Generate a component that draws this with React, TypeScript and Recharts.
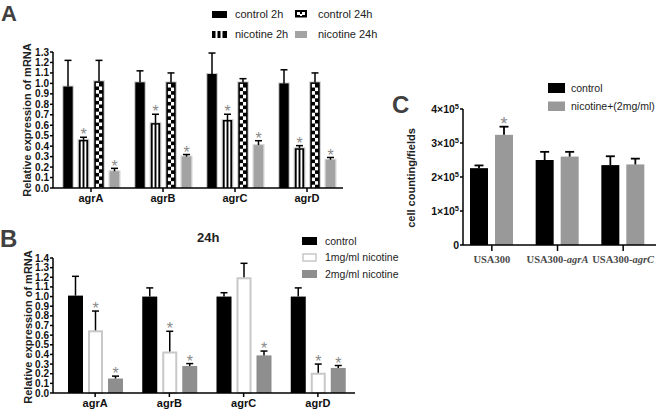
import React from 'react';
import { BarChart, Bar, XAxis, YAxis } from 'recharts';

const SANS = 'Arial, "Liberation Sans", Helvetica, sans-serif';
const SERIF = '"Times New Roman", "Liberation Serif", serif';

// panel A — agr expression at 2h / 24h
const genes = ['agrA', 'agrB', 'agrC', 'agrD'];
const ctl2h = [0.97, 1.01, 1.09, 1.0];
const ctl2hUp = [0.25, 0.11, 0.2, 0.13];
const nic2h = [0.46, 0.62, 0.65, 0.38];
const nic2hUp = [0.025, 0.085, 0.055, 0.025];
const ctl24h = [1.02, 1.01, 1.01, 1.01];
const ctl24hUp = [0.2, 0.09, 0.035, 0.09];
const nic24h = [0.16, 0.3, 0.41, 0.27];
const nic24hUp = [0.028, 0.02, 0.042, 0.022];
const nicStarA = [true, true, true, true];
const ticksA = [0, 0.1, 0.2, 0.3, 0.4, 0.5, 0.6, 0.7, 0.8, 0.9, 1.0, 1.1, 1.2, 1.3];

// panel B — 24h, two doses
const bCtl = [1.01, 1.0, 1.0, 1.0];
const bCtlUp = [0.2, 0.09, 0.04, 0.09];
const b1mg = [0.65, 0.43, 1.2, 0.21];
const b1mgUp = [0.2, 0.21, 0.145, 0.09];
const b1mgStar = [true, true, false, true];
const b2mg = [0.15, 0.28, 0.39, 0.26];
const b2mgUp = [0.025, 0.025, 0.045, 0.025];
const b2mgStar = [true, true, true, true];
const ticksB = [0, 0.1, 0.2, 0.3, 0.4, 0.5, 0.6, 0.7, 0.8, 0.9, 1.0, 1.1, 1.2, 1.3, 1.4];

// panel C — cell counts
const strains = ['USA300', 'USA300-agrA', 'USA300-agrC'];
const cCtl = [226000, 250000, 235000];
const cCtlUp = [8000, 24000, 26000];
const cNic = [324000, 260000, 237000];
const cNicUp = [24000, 14000, 17000];
const cNicStar = [true, false, false];
const ticksC = [0, 100000, 200000, 300000, 400000];

const dataA = genes.map((g, i) => ({
  gene: g,
  ctl2h: ctl2h[i], ctl2hUp: ctl2hUp[i],
  nic2h: nic2h[i], nic2hUp: nic2hUp[i], nic2hStar: nicStarA[i],
  ctl24h: ctl24h[i], ctl24hUp: ctl24hUp[i],
  nic24h: nic24h[i], nic24hUp: nic24hUp[i], nic24hStar: nicStarA[i],
}));

const dataB = genes.map((g, i) => ({
  gene: g,
  ctl: bCtl[i], ctlUp: bCtlUp[i],
  mg1: b1mg[i], mg1Up: b1mgUp[i], mg1Star: b1mgStar[i],
  mg2: b2mg[i], mg2Up: b2mgUp[i], mg2Star: b2mgStar[i],
}));

const dataC = strains.map((s, i) => ({
  strain: s,
  ctl: cCtl[i], ctlUp: cCtlUp[i],
  nic: cNic[i], nicUp: cNicUp[i], nicStar: cNicStar[i],
}));

type Opts = {
  kind: 'solid' | 'stripe' | 'checker' | 'outline';
  fill?: string;
  key: string;
  halo?: boolean;
  cap?: number;
  ew?: number;
  star?: number;
};

// bar body + upper error bar + significance star
const barShape = (o: Opts) => (p: any) => {
  const { x, y, width, height, payload } = p;
  if (!height || height <= 0) return <g />;
  const v = payload[o.key];
  const up = payload[o.key + 'Up'];
  const capY = y - (up * height) / v;
  const cx = x + width / 2;
  const parts: React.ReactNode[] = [];
  let ix = x;
  let iw = width;
  if (o.halo) {
    parts.push(<rect key="h" x={x} y={y - 1} width={width} height={height + 1} fill="#d4d4d4" />);
    ix = x + 1.3;
    iw = width - 2.6;
  }
  if (o.kind === 'solid') {
    parts.push(<rect key="b" x={ix} y={y} width={iw} height={height} fill={o.fill} />);
  } else if (o.kind === 'outline') {
    parts.push(
      <rect key="b" x={ix + 1} y={y + 1} width={iw - 2} height={height - 1} fill="#fff" stroke="#c8c8c8" strokeWidth={2} />
    );
  } else if (o.kind === 'stripe') {
    const s = iw / 5;
    parts.push(<rect key="b" x={ix} y={y} width={iw} height={height} fill="#000" />);
    parts.push(<rect key="s1" x={ix + s} y={y + 1.5} width={s} height={height - 1.5} fill="#fff" />);
    parts.push(<rect key="s2" x={ix + 3 * s} y={y + 1.5} width={s} height={height - 1.5} fill="#fff" />);
  } else {
    const b = 1.6;
    const cw = (iw - 2 * b) / 2;
    const ch = 3.6;
    parts.push(<rect key="b" x={ix} y={y} width={iw} height={height} fill="#000" />);
    let r = 0;
    for (let yy = y + b; yy < y + height; yy += ch, r++) {
      const hh = Math.min(ch, y + height - yy);
      for (let c = 0; c < 2; c++) {
        if ((r + c) % 2 === 0) {
          parts.push(<rect key={`c${r}-${c}`} x={ix + b + c * cw} y={yy} width={cw} height={hh} fill="#fff" />);
        }
      }
    }
  }
  const cap = o.cap ?? 3.5;
  const ew = o.ew ?? 1.5;
  parts.push(<line key="e1" x1={cx} x2={cx} y1={y} y2={capY} stroke="#000" strokeWidth={ew} />);
  parts.push(<line key="e2" x1={cx - cap} x2={cx + cap} y1={capY} y2={capY} stroke="#000" strokeWidth={ew} />);
  if (payload[o.key + 'Star']) {
    const fs = o.star ?? 16;
    parts.push(
      <text key="st" x={cx} y={capY + fs * 0.2} textAnchor="middle" fontSize={fs} fontFamily={SANS} fill="#8a8a8a">
        *
      </text>
    );
  }
  return <g>{parts}</g>;
};

const axisStroke = { stroke: '#000', strokeWidth: 1.5 };
const numTick = { fill: '#111', fontSize: 10, fontWeight: 'bold', fontFamily: SANS };
const geneTick = { fill: '#111', fontSize: 11, fontWeight: 'bold', fontFamily: SANS };

const PowTick = (p: any) => {
  const { x, y, payload } = p;
  const n = payload.value / 100000;
  return (
    <text x={x} y={y} dy={4} textAnchor="end" fontSize={10.5} fontWeight="bold" fontFamily={SANS} fill="#111">
      {n === 0 ? '0' : `${n}×10`}
      {n !== 0 && (
        <tspan dy={-4.5} fontSize={7.5}>
          5
        </tspan>
      )}
    </text>
  );
};

const StrainTick = (p: any) => {
  const { x, y, payload } = p;
  const [base, mut] = String(payload.value).split('-');
  return (
    <text x={x} y={y} dy={9} textAnchor="middle" fontSize={10.5} fontWeight="bold" fontFamily={SERIF} fill="#4a4a4a">
      {base}
      {mut && <tspan>-</tspan>}
      {mut && <tspan fontStyle="italic">{mut}</tspan>}
    </text>
  );
};

const txt = { fontFamily: SANS, fill: '#222' } as const;

const Overlay = () => (
  <svg width={658} height={411} style={{ position: 'absolute', left: 0, top: 0, pointerEvents: 'none' }}>
    <text x={1} y={21} fontSize={22} fontWeight="bold" fontFamily={SANS} fill="#404040">A</text>
    <text x={0} y={247} fontSize={24} fontWeight="bold" fontFamily={SANS} fill="#404040">B</text>
    <text x={392} y={113} fontSize={24} fontWeight="bold" fontFamily={SANS} fill="#404040">C</text>

    <text x={27} y={120} transform="rotate(-90 27 120)" textAnchor="middle" dominantBaseline="central" fontSize={11} fontWeight="bold" {...txt}>
      Relative expression of mRNA
    </text>
    <text x={28} y={327} transform="rotate(-90 28 327)" textAnchor="middle" dominantBaseline="central" fontSize={11} fontWeight="bold" {...txt}>
      Relative expression of mRNA
    </text>
    <text x={411} y={178} transform="rotate(-90 411 178)" textAnchor="middle" dominantBaseline="central" fontSize={11} fontWeight="bold" {...txt}>
      cell counting/fields
    </text>
    <text x={197} y={242} fontSize={13} fontWeight="bold" {...txt}>24h</text>

    {/* legend A */}
    <rect x={212} y={11} width={15} height={7} fill="#000" />
    <text x={235} y={18} fontSize={11} {...txt}>control 2h</text>
    <rect x={212} y={31} width={15} height={7} fill="#000" />
    <rect x={215.5} y={31} width={2} height={7} fill="#fff" />
    <rect x={220.5} y={31} width={2} height={7} fill="#fff" />
    <text x={235} y={38} fontSize={11} {...txt}>nicotine 2h</text>
    <rect x={295} y={10} width={12} height={7.5} fill="#000" />
    <rect x={297} y={12} width={3} height={3} fill="#fff" />
    <rect x={302} y={12} width={3} height={3} fill="#fff" />
    <rect x={300} y={14} width={2} height={2} fill="#fff" />
    <text x={318} y={18} fontSize={11} {...txt}>control 24h</text>
    <rect x={295} y={31} width={12} height={7} fill="#a3a3a3" />
    <text x={318} y={38} fontSize={11} {...txt}>nicotine 24h</text>

    {/* legend B */}
    <rect x={302} y={237} width={15} height={8} fill="#000" />
    <text x={325} y={245} fontSize={10.5} {...txt}>control</text>
    <rect x={303} y={254} width={13} height={7} fill="#fff" stroke="#c8c8c8" strokeWidth={1.5} />
    <text x={325} y={261} fontSize={10.5} {...txt}>1mg/ml nicotine</text>
    <rect x={302} y={270} width={15} height={8} fill="#8e8e8e" />
    <text x={325} y={278} fontSize={10.5} {...txt}>2mg/ml nicotine</text>

    {/* legend C */}
    <rect x={548} y={83} width={17} height={10} fill="#000" />
    <text x={571} y={92} fontSize={10.5} {...txt}>control</text>
    <rect x={548} y={101.5} width={17} height={9.5} fill="#999" />
    <text x={571} y={110} fontSize={10.5} {...txt}>nicotine+(2mg/ml)</text>
  </svg>
);

export default function App() {
  return (
    <div style={{ position: 'absolute', left: 0, top: 0, width: 658, height: 411, background: '#fff', overflow: 'hidden' }}>
      <div style={{ position: 'absolute', left: 0, top: 0 }}>
        <BarChart width={350} height={210} data={dataA} margin={{ top: 52, right: 7, bottom: 0, left: 0 }} barSize={12} barGap={3.5}>
          <XAxis dataKey="gene" height={22} interval={0} tickSize={4} tickMargin={2} tick={geneTick} axisLine={axisStroke} tickLine={axisStroke} padding={{ left: 2, right: 0 }} />
          <YAxis width={53} domain={[0, 1.3]} ticks={ticksA} interval={0} tickSize={3} tickMargin={1} tick={numTick} tickFormatter={(v: number) => v.toFixed(1)} axisLine={axisStroke} tickLine={axisStroke} />
          <Bar dataKey="ctl2h" isAnimationActive={false} shape={barShape({ kind: 'solid', fill: '#000', key: 'ctl2h', halo: true })} />
          <Bar dataKey="nic2h" isAnimationActive={false} shape={barShape({ kind: 'stripe', key: 'nic2h', halo: true })} />
          <Bar dataKey="ctl24h" isAnimationActive={false} shape={barShape({ kind: 'checker', key: 'ctl24h', halo: true })} />
          <Bar dataKey="nic24h" isAnimationActive={false} shape={barShape({ kind: 'solid', fill: '#a3a3a3', key: 'nic24h', halo: true })} />
        </BarChart>
      </div>

      <div style={{ position: 'absolute', left: 0, top: 210 }}>
        <BarChart width={360} height={201} data={dataB} margin={{ top: 48, right: 5, bottom: 0, left: 0 }} barSize={15} barGap={5}>
          <XAxis dataKey="gene" height={18} interval={0} tickSize={4} tickMargin={2} tick={geneTick} axisLine={axisStroke} tickLine={axisStroke} padding={{ left: 5, right: 0 }} />
          <YAxis width={53} domain={[0, 1.4]} ticks={ticksB} interval={0} tickSize={3} tickMargin={1} tick={numTick} tickFormatter={(v: number) => v.toFixed(1)} axisLine={axisStroke} tickLine={axisStroke} />
          <Bar dataKey="ctl" isAnimationActive={false} shape={barShape({ kind: 'solid', fill: '#000', key: 'ctl' })} />
          <Bar dataKey="mg1" isAnimationActive={false} shape={barShape({ kind: 'outline', key: 'mg1' })} />
          <Bar dataKey="mg2" isAnimationActive={false} shape={barShape({ kind: 'solid', fill: '#8e8e8e', key: 'mg2' })} />
        </BarChart>
      </div>

      <div style={{ position: 'absolute', left: 400, top: 0 }}>
        <BarChart width={258} height={275} data={dataC} margin={{ top: 109, right: 2, bottom: 0, left: 0 }} barSize={18} barGap={7}>
          <XAxis dataKey="strain" height={30} interval={0} tickSize={6} tickMargin={3} tick={<StrainTick />} axisLine={axisStroke} tickLine={axisStroke} padding={{ left: -4, right: 0 }} />
          <YAxis width={63} domain={[0, 400000]} ticks={ticksC} interval={0} tickSize={3} tickMargin={1} tick={<PowTick />} axisLine={axisStroke} tickLine={axisStroke} />
          <Bar dataKey="ctl" isAnimationActive={false} shape={barShape({ kind: 'solid', fill: '#000', key: 'ctl', cap: 4.5, ew: 1.8 })} />
          <Bar dataKey="nic" isAnimationActive={false} shape={barShape({ kind: 'solid', fill: '#999', key: 'nic', cap: 4.5, ew: 1.8, star: 18 })} />
        </BarChart>
      </div>

      <Overlay />
    </div>
  );
}
